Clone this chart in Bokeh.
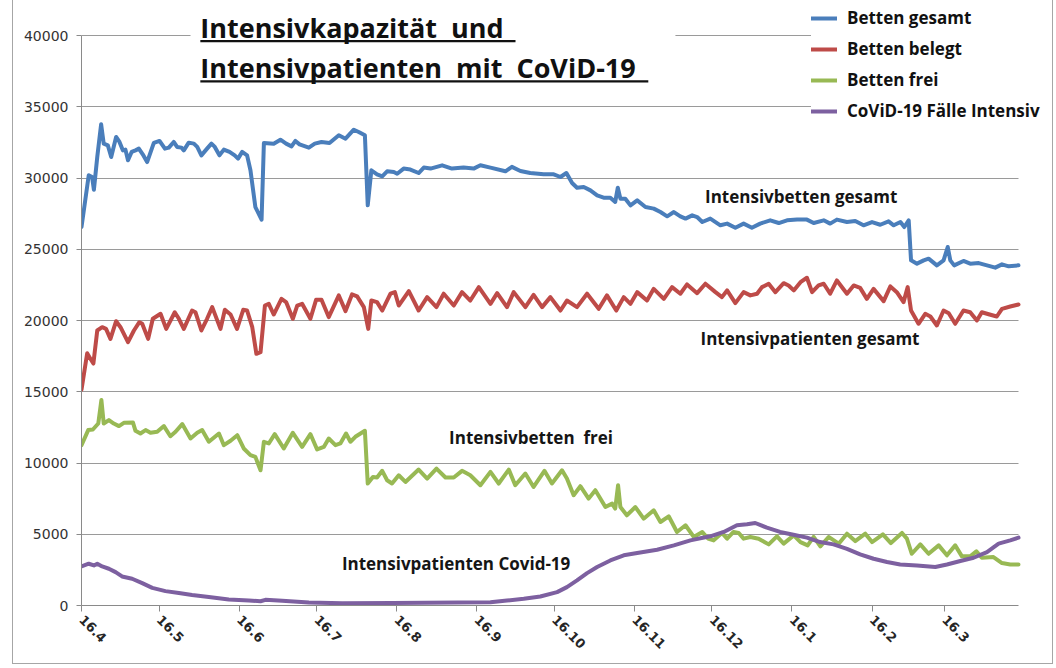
import math
from datetime import date
from bokeh.plotting import figure
from bokeh.models import (Range1d, FixedTicker, SingleIntervalTicker, Legend, LegendItem,
                          Label, BoxAnnotation, BasicTickFormatter)
from bokeh.embed import file_html
from bokeh.resources import INLINE

# ---------------- data (x = days since 16.4.2020) ----------------
start = date(2020, 4, 16)
tick_dates = [date(2020, m, 16) for m in range(4, 13)] + [date(2021, m, 16) for m in range(1, 4)]
tick_labels = ["16.4", "16.5", "16.6", "16.7", "16.8", "16.9", "16.10", "16.11", "16.12",
               "16.1", "16.2", "16.3"]

blue_day = [0, 2.8, 4.1, 4.8, 6.1, 7.6, 8.6, 10.2, 11.5, 13.4, 14.7, 16, 17, 18, 19.4, 20.9, 22.2, 23.7, 25.4, 28,
            30.2, 32.3, 33.8, 35.7, 37, 38.7, 39.6, 41.5, 43.5, 44.8, 46.4, 48.6, 50.3, 51.6, 53.4, 55.1, 57.3, 59.3,
            60.6, 62.2, 64.1, 65.4, 67.3, 69.7, 70.6, 74.4, 77, 79.2, 81.3, 82.8, 84.4, 88, 90.3, 92.9, 96, 99.6,
            102.2, 105.4, 107.3, 109.7, 110.8, 112.2, 114.4, 116.4, 118.3, 120.9, 122.2, 124.7, 127.3, 130.5, 132.5,
            135.1, 139.6, 143.4, 147.9, 151.8, 154.4, 158.3, 164.1, 166.6, 169.9, 173.7, 178.9, 182.8, 185.4, 187.7,
            189.9, 191.8, 194.4, 197, 199.6, 202.1, 204.7, 206.6, 207.6, 208.6, 210.5, 212.5, 215.1, 218.3, 221.5,
            224.1, 226.7, 229.3, 231.8, 233.8, 236.4, 238.3, 240.3, 243.4, 247.3, 249.9, 253.1, 256.3, 259.5, 262.7,
            266.6, 269.9, 273.1, 277, 280.8, 283.4, 287.3, 289.8, 292.4, 296.3, 299.5, 302.7, 306, 309.2, 312.4,
            314.4, 317, 318.5, 320.2, 321.1, 323.4, 326, 327.9, 331.1, 333.7, 335.3, 336.3, 337.8, 341.4, 344,
            347.3, 350.5, 353.7, 356.3, 358.9, 362.7]
blue_val = [26560, 30190, 30070, 29180, 31470, 33770, 32410, 32290, 31470, 32880, 32530, 31940, 31990, 31240, 31830,
            31940, 32060, 31660, 31120, 32460, 32600, 32060, 32130, 32530, 32180, 32130, 31940, 32480, 32410, 32180,
            31590, 32060, 32410, 32180, 31590, 31990, 31830, 31590, 31360, 31830, 31590, 30540, 27960, 27080, 32460,
            32410, 32690, 32410, 32220, 32600, 32360, 32130, 32410, 32530, 32460, 33000, 32760, 33390, 33230, 33000,
            28080, 30540, 30260, 30120, 30470, 30420, 30300, 30660, 30590, 30350, 30730, 30660, 30890, 30660, 30730,
            30660, 30890, 30730, 30470, 30780, 30490, 30350, 30260, 30260, 30070, 30350, 29650, 29320, 29370, 29130,
            28780, 28620, 28620, 28320, 29320, 28550, 28550, 28080, 28430, 27960, 27850, 27610, 27310, 27610, 27310,
            27150, 27380, 27260, 26910, 27150, 26680, 26800, 26510, 26800, 26510, 26800, 27030, 26840, 27030, 27080,
            27080, 26840, 27030, 26800, 27080, 26910, 26980, 26680, 26910, 26720, 26960, 26680, 26910, 26560, 27030,
            24220, 23990, 24220, 24340, 23870, 24220, 25160, 24220, 23870, 24180, 23990, 24030, 23870, 23710, 23940,
            23800, 23870]

red_day = [0, 2.2, 3.5, 4.6, 6.1, 8, 9.5, 11.2, 13.4, 15.1, 18, 20.3, 22.4, 23.5, 25.8, 27.6, 30.6, 32.8, 36.1, 37.7,
           39.6, 42.8, 44.1, 46.4, 48.6, 50.6, 53.8, 55.5, 57.7, 60.2, 62.6, 64.1, 66.1, 67.7, 69.3, 71, 72.5, 74.4,
           77.4, 79.2, 81.8, 83.5, 85.4, 88.6, 90.8, 92.9, 95.7, 99.6, 102.2, 104.7, 106.7, 109.3, 111, 112.2, 114.4,
           116.4, 119.6, 121.3, 122.8, 126.7, 130.5, 133.8, 137.4, 140.2, 144.1, 147.3, 150.5, 153.8, 158.3, 160.9,
           164.7, 167.3, 171.8, 175, 178.3, 181.5, 185.4, 187.9, 191.8, 195.7, 200.2, 203.4, 207, 209.9, 212.5, 215.1,
           218.9, 221.5, 225.4, 228.6, 231.8, 234.4, 238.3, 241.5, 245.4, 247.9, 249.9, 253.1, 256.3, 258.9, 261.5,
           263.4, 266, 268.6, 271.8, 273.7, 275.7, 278.3, 280.8, 282.8, 285.3, 287.3, 289.8, 292.4, 296.3, 298.9,
           301.4, 304, 306.6, 310.5, 313.1, 315.6, 318.2, 319.8, 321.1, 324, 326.6, 328.6, 331.1, 333.7, 335.7, 338.2,
           341.4, 344, 346.6, 348.5, 351.5, 354.3, 356.3, 359.5, 362.7]
red_val = [15150, 17700, 17300, 16980, 19300, 19530, 19410, 18710, 19950, 19530, 18480, 19300, 19880, 19770, 18710,
           20120, 20470, 19410, 20580, 20120, 19410, 20700, 20580, 19300, 20120, 20940, 19410, 20750, 20420, 19410,
           20750, 20700, 19530, 17660, 17775, 21050, 21170, 20420, 21520, 21290, 20120, 21050, 21170, 20120, 21450,
           21450, 20240, 21760, 20660, 21830, 21690, 20940, 19410, 21400, 21290, 20700, 21880, 21990, 21050, 22060,
           20700, 21640, 20940, 21880, 21050, 21990, 21400, 22340, 21170, 21920, 20940, 21990, 20940, 21800, 20940,
           21640, 20700, 21400, 20940, 21880, 20820, 21760, 20700, 21640, 21170, 21990, 21400, 22220, 21520, 22340,
           21880, 22530, 21920, 22580, 21990, 21640, 22110, 21220, 21990, 21760, 21880, 22340, 22580, 21990, 22620,
           22460, 22110, 22690, 23000, 21990, 22460, 22580, 21880, 22810, 21880, 22460, 22290, 21520, 22220, 21360,
           22390, 21990, 21290, 22340, 20700, 19770, 20470, 20280, 19650, 20700, 20510, 19770, 20700, 20580, 20000,
           20580, 20420, 20280, 20820, 20980, 21120]

green_day = [0, 2.6, 4.4, 6.5, 7.7, 8.6, 10.6, 12.5, 14.5, 16.4, 19.9, 20.9, 22.8, 24.8, 26.7, 29.3, 31.9, 34.4, 36.4,
             39, 42.2, 44.8, 46.7, 49.3, 53.2, 55.1, 57.7, 60.3, 62.8, 65.4, 67.3, 69.3, 70.6, 72.5, 74.8, 78.3, 81.8,
             85.4, 88.6, 91.2, 93.8, 95.7, 98.3, 100.2, 102.4, 104.1, 106, 109.7, 110.8, 112.8, 114.4, 116.4, 118.3,
             120.2, 122.8, 125.4, 130.5, 133.8, 137.4, 140.9, 144.1, 147.3, 150.5, 154.4, 158.3, 161.5, 165.4, 167.9,
             171.8, 175, 179.2, 182.1, 186, 187.9, 190.5, 193.1, 196.3, 198.9, 202.8, 205.4, 206.6, 207.7, 208.6,
             211.1, 214.4, 217.6, 221.5, 224.1, 227.3, 230.5, 233.8, 237, 240.3, 242.5, 244.7, 247.9, 249.9, 252.4,
             254.4, 256.3, 258.9, 262.1, 266, 269.2, 271.8, 275.7, 278.3, 281.1, 283.4, 286, 289.2, 293.1, 296.3,
             299.5, 303.4, 306, 310.2, 313.3, 317.6, 319.5, 321.4, 324.7, 327.9, 331.8, 335, 338.2, 340.8, 344, 346.4,
             348.5, 353, 356.3, 359.5, 362.7]
green_val = [11250, 12310, 12350, 12770, 14420, 12770, 13010, 12770, 12590, 12820, 12850, 12260, 12070, 12310, 12120,
             12190, 12590, 11880, 12190, 12730, 11720, 12120, 12310, 11490, 12070, 11250, 11560, 11950, 11020, 10550,
             10430, 9490, 11490, 11370, 12030, 11020, 12120, 11130, 12030, 10950, 11130, 11720, 11250, 11370, 12070,
             11490, 11840, 12260, 8560, 9020, 8980, 9450, 8790, 8560, 9140, 8670, 9540, 8910, 9610, 8980, 8980, 9450,
             9140, 8440, 9380, 8560, 9540, 8440, 9260, 8320, 9450, 8560, 9490, 8910, 7740, 8370, 7500, 8090, 6910,
             7150, 6800, 8440, 6910, 6330, 6910, 6090, 6680, 5860, 6260, 5160, 5630, 4810, 5160, 4700, 4570, 5090,
             4690, 5160, 5090, 4690, 4810, 4690, 4290, 4850, 4340, 4920, 4450, 4220, 4810, 4150, 4810, 4340, 5040,
             4520, 5040, 4450, 4990, 4380, 5090, 4690, 3630, 4290, 3630, 4220, 3520, 4220, 3450, 3450, 3800, 3350,
             3400, 2980, 2880, 2880]

purple_day = [0, 2.8, 4.8, 6.1, 8, 10.6, 13.2, 15.7, 19.6, 23.5, 27.4, 32.5, 37.7, 42.8, 49.3, 57, 64.8, 69.3, 71.2,
              77.7, 88, 100.9, 120.2, 158.3, 164.7, 171.2, 177.6, 184.1, 187.9, 191.8, 195.7, 199.6, 204.7, 209.9,
              215.1, 222.8, 229.3, 235.7, 240.5, 243.4, 248.6, 253.7, 257.6, 260.8, 265.3, 270.4, 275.6, 280.8, 285.9,
              291.1, 296.3, 301.4, 306.6, 311.8, 316.9, 323.4, 330.5, 335, 340.2, 345.3, 350.5, 355, 359.5, 362.7]
purple_val = [2740, 2930, 2810, 2930, 2740, 2580, 2340, 2040, 1880, 1570, 1240, 1010, 870, 730, 590, 420, 350, 300, 400,
              330, 210, 160, 170, 230, 350, 470, 630, 940, 1290, 1760, 2270, 2700, 3160, 3520, 3680, 3910, 4220, 4570,
              4750, 4850, 5160, 5630, 5700, 5790, 5460, 5160, 4970, 4760, 4450, 4290, 3980, 3590, 3280, 3050, 2880,
              2810, 2700, 2880, 3120, 3350, 3750, 4340, 4570, 4760]

series_names = ["Betten gesamt", "Betten belegt", "Betten frei", "CoViD-19 Fälle Intensiv"]
series_colors = ["#4A7EBB", "#BE4B48", "#98B954", "#7D60A0"]

title_lines = ["Intensivkapazität\u00a0 und\u00a0", "Intensivpatienten\u00a0 mit\u00a0 CoViD-19"]

# ---------------- figure ----------------
tick_days = [(d - start).days for d in tick_dates]
x_last = 362.7           # last day with data (axis end)
y_top = 40000            # top of the value axis
# frame is extended beyond the axes (to the canvas top / right) so that title and legend are not clipped
px_per_day = 937 / x_last
px_per_unit = 570 / y_top

p = figure(width=1039, height=663, output_backend="svg", toolbar_location=None,
           x_range=Range1d(0, 971 / px_per_day), y_range=Range1d(0, 605 / px_per_unit),
           min_border_left=68, min_border_right=0, min_border_top=0, min_border_bottom=58,
           margin=(0, 0, 0, 13),
           styles={"outline": "1px solid #a6a6a6"})
p.outline_line_color = None
p.background_fill_color = "white"
p.border_fill_color = "white"

p.xgrid.visible = False
p.ygrid.grid_line_color = "#9a9a9a"
p.ygrid.grid_line_width = 1
p.ygrid.ticker = SingleIntervalTicker(interval=5000)
p.ygrid.bounds = (0, y_top)
p.ygrid.cross_bounds = (0, x_last)

p.yaxis.ticker = SingleIntervalTicker(interval=5000)
p.yaxis.bounds = (0, y_top)
p.yaxis.formatter = BasicTickFormatter(use_scientific=False)
p.yaxis.minor_tick_line_color = None
p.yaxis.major_tick_in = 0
p.yaxis.major_tick_out = 5
p.yaxis.axis_line_color = "#8a8a8a"
p.yaxis.major_tick_line_color = "#8a8a8a"
p.yaxis.major_label_text_font = "DejaVu Sans"
p.yaxis.major_label_text_font_size = "14px"
p.yaxis.major_label_text_color = "#333333"
p.yaxis.major_label_standoff = 8

p.xaxis.ticker = FixedTicker(ticks=tick_days)
p.xaxis.bounds = (0, x_last)
p.xaxis.major_label_overrides = {d: lab for d, lab in zip(tick_days, tick_labels)}
p.xaxis.minor_tick_line_color = None
p.xaxis.major_tick_in = 0
p.xaxis.major_tick_out = 6
p.xaxis.axis_line_color = "#8a8a8a"
p.xaxis.major_tick_line_color = "#8a8a8a"
p.xaxis.major_label_orientation = -math.pi / 4
p.xaxis.major_label_text_font = "DejaVu Sans"
p.xaxis.major_label_text_font_size = "13px"
p.xaxis.major_label_text_font_style = "bold"
p.xaxis.major_label_text_color = "#262626"
p.xaxis.major_label_standoff = 6

xs = [blue_day, red_day, green_day, purple_day]
ys = [blue_val, red_val, green_val, purple_val]
renderers = []
for x, y, c in zip(xs, ys, series_colors):
    r = p.line(x, y, line_color=c, line_width=4, line_join="round", line_cap="round")
    renderers.append(r)

# title box (white, hides 40000 gridline)
p.add_layout(BoxAnnotation(left=42.2, right=229.9, bottom=39300, top=41500,
                           fill_color="white", fill_alpha=1, line_color=None))

font = "Open Sans"
for t, yv in zip(title_lines, [40560, 37760]):
    p.add_layout(Label(x=46, y=yv, text=t, text_font=font,
                       text_font_size="27px", text_font_style="bold", text_baseline="middle",
                       text_color="#111111"))
p.add_layout(BoxAnnotation(left=46, right=168, bottom=39520, top=39680,
                           fill_color="#111111", fill_alpha=1, line_color=None))
p.add_layout(BoxAnnotation(left=46, right=219.4, bottom=36700, top=36860,
                           fill_color="#111111", fill_alpha=1, line_color=None))

# in-chart annotations
notes = [("Intensivbetten gesamt", 278.6, 28700),
         ("Intensivpatienten gesamt", 282, 18740),
         ("Intensivbetten\u00a0 frei", 174, 11790),
         ("Intensivpatienten Covid-19", 145, 2950)]
for t, x, y in notes:
    p.add_layout(Label(x=x, y=y, text=t, text_font=font, text_font_size="17px",
                       text_font_style="bold", text_align="center", text_baseline="middle",
                       text_color="#151515"))

legend = Legend(items=[LegendItem(label=n, renderers=[r]) for n, r in zip(series_names, renderers)],
                location=(730, 483))
legend.label_text_font = font
legend.label_text_font_size = "17px"
legend.label_text_font_style = "bold"
legend.label_text_color = "#111111"
legend.glyph_width = 26
legend.glyph_height = 18
legend.label_height = 18
legend.spacing = 8
legend.label_standoff = 10
legend.padding = 8
legend.margin = 0
legend.border_line_color = None
legend.background_fill_color = "white"
legend.background_fill_alpha = 1
p.add_layout(legend)

open("out.html", "w").write(file_html(p, INLINE))
